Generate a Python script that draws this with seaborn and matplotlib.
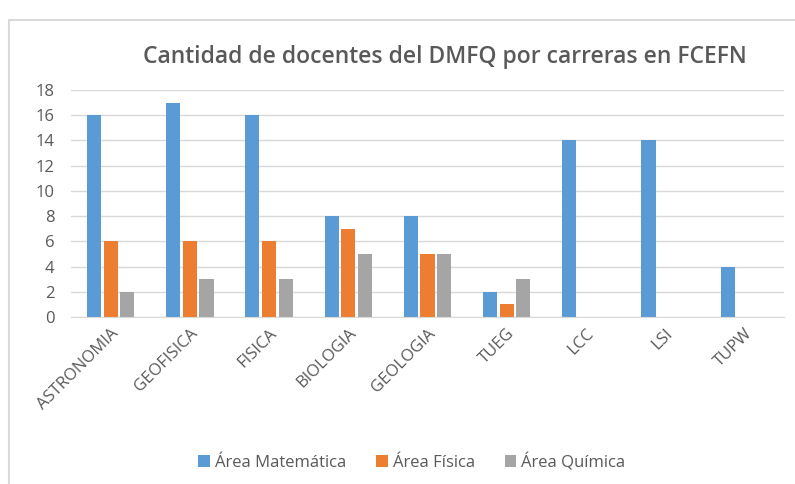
import matplotlib
matplotlib.use("Agg")
import matplotlib.pyplot as plt
import seaborn as sns
import pandas as pd
from matplotlib.patches import Rectangle

categories = ["ASTRONOMIA", "GEOFISICA", "FISICA", "BIOLOGIA", "GEOLOGIA", "TUEG", "LCC", "LSI", "TUPW"]
matematica = [16, 17, 16, 8, 8, 2, 14, 14, 4]
fisica = [6, 6, 6, 7, 5, 1, 0, 0, 0]
quimica = [2, 3, 3, 5, 5, 3, 0, 0, 0]
series_names = ["Área Matemática", "Área Física", "Área Química"]
yticks = list(range(0, 19, 2))

rows = []
for name, vals in zip(series_names, [matematica, fisica, quimica]):
    for c, v in zip(categories, vals):
        rows.append({"Carrera": c, "Área": name, "Docentes": v})
df = pd.DataFrame(rows)

sns.set_style("white")
plt.rcParams["font.family"] = ["Open Sans", "DejaVu Sans"]

fig = plt.figure(figsize=(7.95, 4.84), dpi=100)
ax = fig.add_axes([71/795, 1-317/484, (784-71)/795, (317-90)/484])

palette = ["#5B9BD5", "#ED7D31", "#A5A5A5"]
sns.barplot(data=df, x="Carrera", y="Docentes", hue="Área", order=categories,
            hue_order=series_names, palette=palette, width=0.63, gap=0.15,
            saturation=1, ax=ax, legend=True, linewidth=0)

ax.set_ylim(0, 18)
ax.set_yticks(yticks)
ax.set_xlim(-0.5, len(categories) - 0.5)
ax.yaxis.grid(True, color="#D9D9D9", linewidth=1)
ax.set_axisbelow(True)
for s in ["top", "right", "left"]:
    ax.spines[s].set_visible(False)
ax.spines["bottom"].set_color("#D9D9D9")
ax.set_xlabel("")
ax.set_ylabel("")
ax.tick_params(axis="both", length=0, colors="#595959", labelsize=12)
ax.tick_params(axis="y", pad=12)
ax.tick_params(axis="x", pad=6)
plt.setp(ax.get_xticklabels(), rotation=45, ha="right", rotation_mode="anchor")

handles, labels = ax.get_legend_handles_labels()
ax.legend_.remove()
fig.legend(handles, labels, loc="center", bbox_to_anchor=(0.518, 1-462/484), ncol=3,
           frameon=False, fontsize=12, labelcolor="#595959", handlelength=0.7,
           handleheight=0.7, handletextpad=0.3, columnspacing=1.8)

fig.text(0.56, 1-57/484, "Cantidad de docentes del DMFQ por carreras en FCEFN",
         ha="center", va="center", fontsize=16.5, color="#595959", fontweight="semibold")

fig.patches.append(Rectangle((9/795, -0.1), 1.2, 1.1 - 20/484, transform=fig.transFigure,
                             fill=False, edgecolor="#D9D9D9", linewidth=1.5))

fig.savefig("out.png", dpi=100)
